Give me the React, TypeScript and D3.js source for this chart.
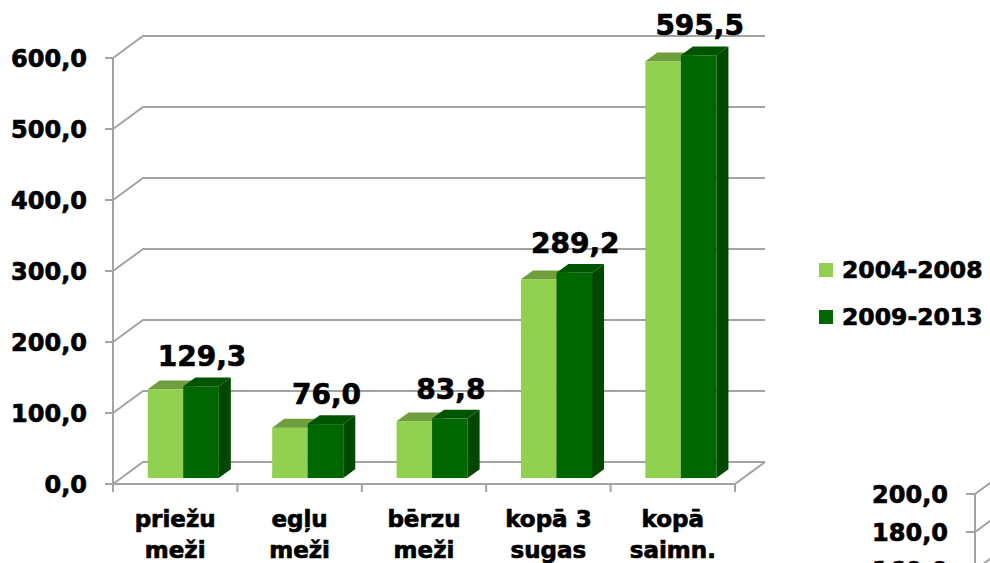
import React from "react";
import * as d3 from "d3";

// chart data
const categories: string[][] = [
  ["priežu", "meži"],
  ["egļu", "meži"],
  ["bērzu", "meži"],
  ["kopā 3", "sugas"],
  ["kopā", "saimn."],
];
const seriesNames = ["2004-2008", "2009-2013"];
const values2004 = [125.0, 71.0, 80.0, 280.0, 587.0];
const values2009 = [129.3, 76.0, 83.8, 289.2, 595.5];
const yTicks = [0, 100, 200, 300, 400, 500, 600];
// ticks of the next chart peeking in at the bottom right
const nextChartTicks = [200, 180, 160];

const W = 990;
const H = 563;
const FONT = "'DejaVu Sans', Verdana, sans-serif";
const GRID = "#a3a3a3";

// 3d depth of the plot box
const DX = 30;
const DY = -22;
// bar placed between these fractions of the depth
const F0 = 0.27;
const F1 = 0.67;

const colors = [
  { front: "#92d050", top: "#6f9e3c", side: "#6b9a38" },
  { front: "#006600", top: "#005400", side: "#004800" },
];

const lv = d3.formatLocale({
  decimal: ",",
  thousands: " ",
  grouping: [3],
  currency: ["", ""],
});
const fmt = lv.format(".1f");

// bold text looks heavier in the original, thicken a bit
const heavy = { stroke: "#000", strokeWidth: 0.7 };

const App: React.FC = () => {
  const keys = categories.map((c) => c.join(" "));
  const x = d3.scaleBand().domain(keys).range([113, 735]).padding(0);
  const xs = d3
    .scaleBand()
    .domain(seriesNames)
    .range([0, x.bandwidth()])
    .paddingInner(0)
    .paddingOuter(0.75);
  const y = d3.scaleLinear().domain([0, 600]).range([484, 58]);
  const y2 = d3.scaleLinear().domain([160, 200]).range([570, 494]);

  const series = [values2004, values2009];
  const bw = xs.bandwidth();
  const y0 = y(0);

  const bar = (cx: number, v: number, c: (typeof colors)[0], key: string) => {
    const x0 = cx + DX * F0;
    const x1 = x0 + bw;
    const ox = DX * (F1 - F0);
    const oy = DY * (F1 - F0);
    const yt = y(v) + DY * F0;
    const yb = y0 + DY * F0;
    return (
      <g key={key}>
        <rect x={x0} y={yt} width={bw} height={yb - yt} fill={c.front} />
        <polygon
          points={`${x0},${yt} ${x1},${yt} ${x1 + ox},${yt + oy} ${x0 + ox},${yt + oy}`}
          fill={c.top}
        />
        <polygon
          points={`${x1},${yt} ${x1 + ox},${yt + oy} ${x1 + ox},${yb + oy} ${x1},${yb}`}
          fill={c.side}
        />
      </g>
    );
  };

  const [xl, xr] = x.range();

  return (
    <svg
      width={W}
      height={H}
      style={{ position: "absolute", left: 0, top: 0, background: "#fff" }}
      fontFamily={FONT}
    >
      {/* back wall + side wall gridlines */}
      <g stroke={GRID} strokeWidth={2} fill="none">
        {yTicks.map((t) => (
          <path
            key={t}
            d={`M${xl},${y(t)} L${xl + DX},${y(t) + DY} L${xr + DX},${y(t) + DY}`}
          />
        ))}
        {/* floor */}
        <path d={`M${xr},${y0} L${xr + DX},${y0 + DY}`} />
        <line x1={xl} x2={xl} y1={y(600)} y2={y0} />
        <line x1={xl - 8} x2={xr} y1={y0} y2={y0} />
        {yTicks.map((t) => (
          <line key={t} x1={xl - 8} x2={xl} y1={y(t)} y2={y(t)} />
        ))}
        {d3.range(keys.length + 1).map((i) => {
          const xx = xl + i * x.step();
          return <line key={i} x1={xx} x2={xx} y1={y0} y2={y0 + 8} />;
        })}
      </g>

      {/* bars */}
      {keys.map((k, i) => (
        <g key={k}>
          {seriesNames.map((s, j) =>
            bar((x(k) ?? 0) + (xs(s) ?? 0), series[j][i], colors[j], s)
          )}
        </g>
      ))}

      {/* value labels */}
      <g fontSize={28} fontWeight="bold" textAnchor="middle" fill="#000" {...heavy}>
        {keys.map((k, i) => (
          <text
            key={k}
            x={(x(k) ?? 0) + (xs(seriesNames[1]) ?? 0) + bw / 2 + DX * F0 + 1}
            y={y(values2009[i]) + DY * F0 - 20}
          >
            {fmt(values2009[i])}
          </text>
        ))}
      </g>

      {/* y axis labels */}
      <g fontSize={24} fontWeight="bold" textAnchor="end" fill="#000" {...heavy}>
        {yTicks.map((t) => (
          <text key={t} x={87} y={y(t)} dy="0.36em">
            {fmt(t)}
          </text>
        ))}
      </g>

      {/* category labels */}
      <g fontSize={23} fontWeight="bold" textAnchor="middle" fill="#000" {...heavy}>
        {categories.map((c, i) => (
          <text key={i} x={(x(keys[i]) ?? 0) + x.bandwidth() / 2} y={527}>
            {c.map((line, l) => (
              <tspan key={l} x={(x(keys[i]) ?? 0) + x.bandwidth() / 2} dy={l === 0 ? 0 : 31}>
                {line}
              </tspan>
            ))}
          </text>
        ))}
      </g>

      {/* legend */}
      <g fontSize={23.5} fontWeight="bold" fill="#000">
        {seriesNames.map((s, j) => (
          <g key={s} transform={`translate(819, ${263 + j * 47})`}>
            <rect width={14} height={14} fill={colors[j].front} />
            <text x={23} y={15} {...heavy}>
              {s}
            </text>
          </g>
        ))}
      </g>

      {/* next chart, partly visible */}
      <g stroke={GRID} strokeWidth={2} fill="none">
        <line x1={975} x2={975} y1={y2(200)} y2={H} />
        {nextChartTicks.map((t) => (
          <path
            key={t}
            d={`M966,${y2(t)} L975,${y2(t)} L${975 + DX},${y2(t) + DY}`}
          />
        ))}
      </g>
      <g fontSize={24} fontWeight="bold" textAnchor="end" fill="#000" {...heavy}>
        {nextChartTicks.map((t) => (
          <text key={t} x={948} y={y2(t)} dy="0.36em">
            {fmt(t)}
          </text>
        ))}
      </g>
    </svg>
  );
};

export default App;
